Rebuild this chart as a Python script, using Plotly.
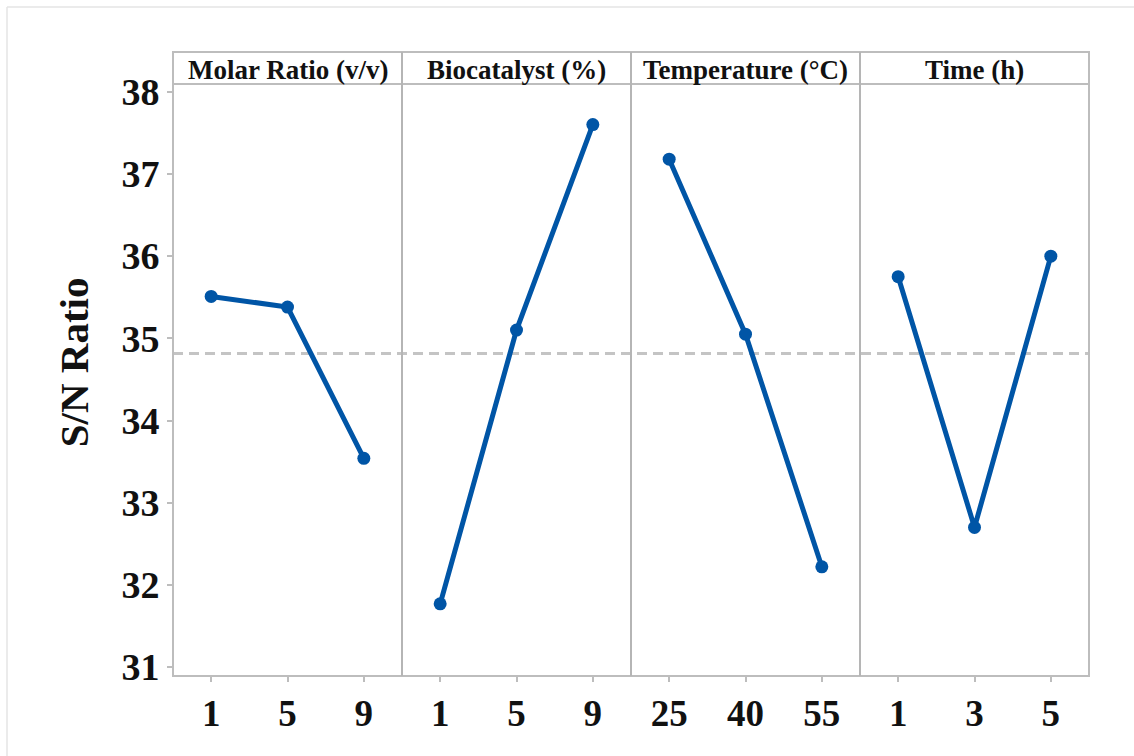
import numpy as np
import plotly.graph_objects as go

# Main-effects plot for S/N ratios (Taguchi design)
factors = ["Molar Ratio (v/v)", "Biocatalyst (%)", "Temperature (°C)", "Time (h)"]
molar_levels = ["1", "5", "9"]
molar_sn = [35.51, 35.38, 33.54]
biocat_levels = ["1", "5", "9"]
biocat_sn = [31.77, 35.10, 37.60]
temp_levels = ["25", "40", "55"]
temp_sn = [37.18, 35.05, 32.22]
time_levels = ["1", "3", "5"]
time_sn = [35.75, 32.70, 36.00]
y_ticks = [31, 32, 33, 34, 35, 36, 37, 38]

levels = [molar_levels, biocat_levels, temp_levels, time_levels]
sn_values = [molar_sn, biocat_sn, temp_sn, time_sn]
grand_mean = float(np.mean(np.concatenate(sn_values)))

LINE_BLUE = "#0055a6"
FRAME = "#bdbdbd"
FONT = "Liberation Serif"

W, H = 1134, 756
M_L, M_R, M_T, M_B = 173, 45, 84, 80
plot_h = H - M_T - M_B
strip = 32 / plot_h  # header strip height in paper units

fig = go.Figure()
n = len(factors)
for i, (lv, sn) in enumerate(zip(levels, sn_values)):
    suffix = "" if i == 0 else str(i + 1)
    fig.add_trace(go.Scatter(
        x=lv, y=sn, mode="lines+markers",
        line=dict(color=LINE_BLUE, width=5),
        marker=dict(color=LINE_BLUE, size=13),
        xaxis="x" + suffix, yaxis="y", showlegend=False,
        hoverinfo="skip",
    ))
    ax = dict(
        domain=[i / n, (i + 1) / n], type="category", range=[-0.5, 2.5],
        categoryorder="array", categoryarray=lv,
        showgrid=False, zeroline=False, showline=False,
        ticks="outside", ticklen=5, tickwidth=1.5, tickcolor=FRAME,
        tickfont=dict(family=FONT, size=37, color="#111111", weight="bold"),
        anchor="y", fixedrange=True,
    )
    fig.update_layout(**{"xaxis" + suffix: ax})
    fig.add_annotation(
        text=factors[i], xref="paper", yref="paper",
        x=(i + 0.5) / n, y=1 + strip * 0.45, xanchor="center", yanchor="middle",
        showarrow=False,
        font=dict(family=FONT, size=27, color="#111111", weight="bold"),
    )

fig.update_layout(
    yaxis=dict(
        range=[30.892, 38.094], tickvals=y_ticks,
        showgrid=False, zeroline=False, showline=False,
        ticks="outside", ticklen=5, tickwidth=1.5, tickcolor=FRAME,
        tickfont=dict(family=FONT, size=38, color="#111111", weight="bold"),
        anchor="x", fixedrange=True,
    ),
    width=W, height=H,
    margin=dict(l=M_L, r=M_R, t=M_T, b=M_B),
    paper_bgcolor="white", plot_bgcolor="white",
)

# Y-axis title
fig.add_annotation(
    text="S/N Ratio", xref="paper", yref="paper",
    x=(74 - M_L) / (W - M_L - M_R), y=0.53, textangle=-90,
    xanchor="center", yanchor="middle", showarrow=False,
    font=dict(family=FONT, size=41, color="#111111", weight="bold"),
)

shapes = [
    # grand mean reference line across all panels
    dict(type="line", xref="paper", yref="y", x0=0, x1=1,
         y0=grand_mean, y1=grand_mean,
         line=dict(color="#c4c4c4", width=3, dash="10px,6px"), layer="below"),
    # panel frames and header strips
    dict(type="rect", xref="paper", yref="paper", x0=0, x1=1, y0=0, y1=1 + strip,
         line=dict(color=FRAME, width=2), layer="above"),
    dict(type="line", xref="paper", yref="paper", x0=0, x1=1, y0=1, y1=1,
         line=dict(color=FRAME, width=2), layer="above"),
]
for i in range(1, n):
    shapes.append(dict(type="line", xref="paper", yref="paper", x0=i / n, x1=i / n,
                       y0=0, y1=1 + strip, line=dict(color="#b5b5b5", width=2),
                       layer="above"))
# faint outer frame
fx = -(M_L - 7) / (W - M_L - M_R)
fy_top = 1 + (M_T - 7) / plot_h
fy_bot = -M_B / plot_h
fx_right = 1 + M_R / (W - M_L - M_R)
shapes.append(dict(type="line", xref="paper", yref="paper", x0=fx, x1=fx_right,
                   y0=fy_top, y1=fy_top, line=dict(color="#e4e4e4", width=1.5)))
shapes.append(dict(type="line", xref="paper", yref="paper", x0=fx, x1=fx,
                   y0=fy_bot, y1=fy_top, line=dict(color="#e4e4e4", width=1.5)))
fig.update_layout(shapes=shapes)

fig.write_html("out.html")
